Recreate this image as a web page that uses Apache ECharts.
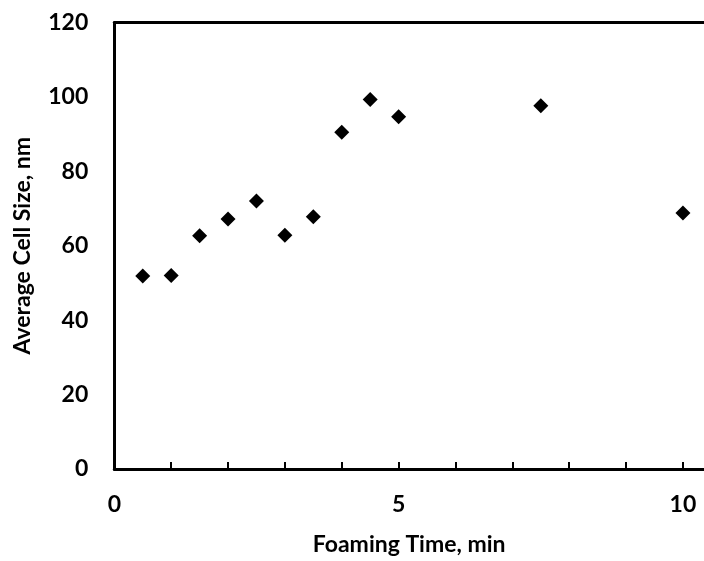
<!DOCTYPE html>
<html>
<head>
<meta charset="utf-8">
<script src="https://cdn.jsdelivr.net/npm/echarts@6/dist/echarts.min.js"></script>
<style>html,body{margin:0;padding:0;background:#fff}#c{width:704px;height:561px}</style>
</head>
<body>
<div id="c"></div>
<script>
const foamingTime = [0.5, 1, 1.5, 2, 2.5, 3, 3.5, 4, 4.5, 5, 7.5, 10];
const cellSize = [51.9, 52.0, 62.7, 67.2, 72.0, 62.8, 67.8, 90.5, 99.3, 94.7, 97.6, 68.8];
const xTitle = 'Foaming Time, min';
const yTitle = 'Average Cell Size, nm';
const xLabelEvery = 5;

const points = foamingTime.map((t, i) => [t, cellSize[i]]);
const FONT = 'Lato';
const FS = 23;
const X_MAX = 10.37;
const chart = echarts.init(document.getElementById('c'), null, {renderer: 'canvas'});
chart.setOption({
  animation: false,
  backgroundColor: '#fff',
  grid: {left: 114.3, top: 22.5, bottom: 90.5, right: 0, show: false},
  xAxis: [{
    type: 'value', min: 0, max: X_MAX, interval: 1,
    name: xTitle, nameLocation: 'middle', nameGap: 64,
    nameTextStyle: {fontFamily: FONT, fontWeight: 'bold', fontSize: FS, color: '#000'},
    axisLine: {show: true, lineStyle: {color: '#000', width: 3}},
    axisTick: {show: true, inside: true, length: 7, lineStyle: {color: '#000', width: 2}},
    axisLabel: {fontFamily: FONT, fontWeight: 'bold', fontSize: FS, color: '#000', margin: 24,
      showMaxLabel: false,
      formatter: v => (Math.abs(v % xLabelEvery) < 1e-9 ? String(v) : '')},
    splitLine: {show: false}
  }, {
    type: 'value', min: 0, max: X_MAX, position: 'top',
    axisLine: {show: true, lineStyle: {color: '#000', width: 3}},
    axisTick: {show: false}, axisLabel: {show: false}, splitLine: {show: false}
  }],
  yAxis: {
    type: 'value', min: 0, max: 120, interval: 20,
    name: yTitle, nameLocation: 'middle', nameGap: 80, nameRotate: 90,
    nameTextStyle: {fontFamily: FONT, fontWeight: 'bold', fontSize: FS, color: '#000'},
    axisLine: {show: true, lineStyle: {color: '#000', width: 3}},
    axisTick: {show: false},
    axisLabel: {fontFamily: FONT, fontWeight: 'bold', fontSize: FS, color: '#000', margin: 26},
    splitLine: {show: false}
  },
  series: [{
    type: 'scatter',
    xAxisIndex: 0,
    data: points,
    symbol: 'diamond',
    symbolSize: 15,
    itemStyle: {color: '#000', opacity: 1}
  }]
});
</script>
</body>
</html>
